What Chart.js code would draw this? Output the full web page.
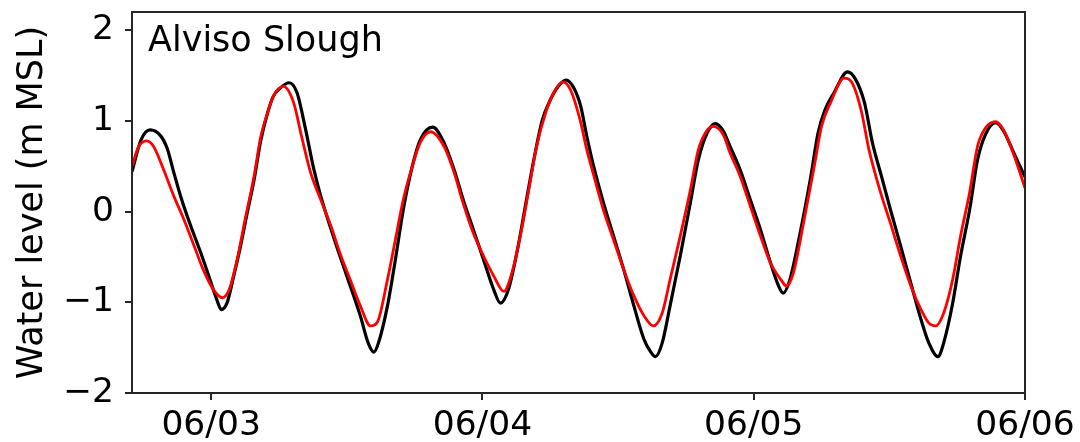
<!DOCTYPE html>
<html>
<head>
<meta charset="utf-8">
<script src="https://cdn.jsdelivr.net/npm/chart.js@4.4.1/dist/chart.umd.min.js"></script>
<style>
  html, body { margin: 0; padding: 0; background: #fff; }
  canvas { display: block; }
</style>
</head>
<body>
<canvas id="chart" width="1080" height="442"></canvas>
<script>
// hours counted from 06/02 00:00
const stationName = "Alviso Slough";
const yTitle = "Water level (m MSL)";
const xTickHours = [24, 48, 72, 96];
const xTickLabels = ["06/03", "06/04", "06/05", "06/06"];
const yTickValues = [-2, -1, 0, 1, 2];
const yTickLabels = ["−2", "−1", "0", "1", "2"];

// black line (observed)
const observedHours = [
  17.0, 17.8, 18.6, 19.5, 20.1, 20.7, 21.3, 22.2, 23.1, 23.9,
  24.5, 24.9, 25.4, 26.0, 26.6, 27.2, 27.8, 28.4, 29.0, 29.5,
  30.1, 30.9, 31.6, 32.3, 33.1, 33.7, 34.8, 36.0, 37.2, 37.9,
  38.4, 38.8, 39.6, 40.3, 41.0, 41.8, 42.5, 43.6, 44.6, 45.5,
  46.3, 47.2, 48.1, 49.0, 49.6, 50.3, 51.1, 51.8, 52.5, 53.3,
  54.0, 54.7, 55.4, 56.1, 56.7, 57.2, 57.8, 58.7, 59.6, 60.5,
  61.4, 62.3, 62.9, 63.3, 63.9, 64.6, 65.5, 66.4, 67.1, 67.9,
  68.6, 69.3, 69.9, 70.8, 71.7, 72.6, 73.5, 74.2, 74.6, 75.2,
  76.1, 77.0, 77.7, 78.3, 79.1, 80.3, 81.0, 81.8, 82.5, 83.3,
  84.1, 85.0, 85.9, 86.8, 87.5, 88.3, 88.8, 89.6, 90.3, 91.1,
  91.8, 92.5, 93.4, 94.1, 95.0, 96.0
];
const observedLevels = [
  0.44, 0.79, 0.90, 0.84, 0.70, 0.43, 0.17, -0.16, -0.46, -0.75,
  -0.97, -1.08, -1.01, -0.71, -0.38, -0.01, 0.35, 0.79, 1.09, 1.27,
  1.36, 1.42, 1.31, 0.94, 0.46, 0.17, -0.27, -0.71, -1.15, -1.45,
  -1.55, -1.45, -1.04, -0.53, 0.02, 0.50, 0.79, 0.93, 0.76, 0.46,
  0.13, -0.20, -0.53, -0.86, -1.01, -0.86, -0.42, 0.06, 0.54, 1.01,
  1.23, 1.38, 1.45, 1.36, 1.16, 0.85, 0.52, 0.10, -0.27, -0.64,
  -1.04, -1.41, -1.55, -1.60, -1.45, -1.04, -0.49, 0.10, 0.57, 0.87,
  0.97, 0.89, 0.72, 0.46, 0.13, -0.20, -0.57, -0.82, -0.90, -0.75,
  -0.24, 0.35, 0.87, 1.12, 1.31, 1.54, 1.46, 1.20, 0.76, 0.39,
  0.02, -0.38, -0.79, -1.19, -1.45, -1.60, -1.45, -1.01, -0.49, 0.02,
  0.57, 0.85, 0.98, 0.89, 0.65, 0.38
];

// red line (model)
const modelHours = [
  17.0, 17.6, 18.3, 18.9, 19.8, 20.7, 21.6, 22.5, 23.3, 24.2,
  25.0, 25.6, 26.3, 27.0, 27.8, 28.4, 29.0, 29.5, 30.4, 31.3,
  32.0, 32.8, 33.7, 34.6, 35.4, 36.3, 37.2, 38.1, 38.7, 39.6,
  40.3, 41.0, 41.8, 42.5, 43.4, 44.6, 45.5, 46.3, 47.2, 48.1,
  49.0, 49.9, 50.6, 51.4, 52.1, 52.8, 53.6, 54.3, 55.1, 55.8,
  56.7, 57.2, 57.8, 58.7, 59.6, 60.5, 61.4, 62.3, 63.1, 63.9,
  64.6, 65.5, 66.4, 67.1, 67.9, 68.4, 69.3, 69.9, 70.8, 71.7,
  72.6, 73.5, 74.4, 74.9, 75.5, 76.4, 77.3, 78.0, 78.8, 80.0,
  80.7, 81.5, 82.2, 83.2, 84.1, 85.0, 85.9, 86.8, 87.5, 88.1,
  88.8, 89.6, 90.3, 91.1, 91.8, 92.5, 93.4, 94.1, 95.0, 96.0
];
const modelLevels = [
  0.50, 0.72, 0.78, 0.72, 0.46, 0.17, -0.09, -0.38, -0.64, -0.86,
  -0.95, -0.86, -0.53, -0.09, 0.39, 0.83, 1.09, 1.27, 1.38, 1.20,
  0.83, 0.43, 0.13, -0.16, -0.46, -0.75, -1.04, -1.26, -1.22, -0.75,
  -0.31, 0.13, 0.50, 0.76, 0.88, 0.72, 0.43, 0.09, -0.24, -0.49,
  -0.71, -0.88, -0.68, -0.24, 0.24, 0.72, 1.09, 1.31, 1.43, 1.34,
  0.98, 0.70, 0.42, 0.02, -0.31, -0.64, -0.93, -1.15, -1.26, -1.12,
  -0.75, -0.27, 0.24, 0.68, 0.90, 0.94, 0.85, 0.65, 0.39, 0.06,
  -0.27, -0.57, -0.75, -0.82, -0.68, -0.13, 0.46, 0.94, 1.20, 1.47,
  1.42, 1.12, 0.68, 0.22, -0.13, -0.49, -0.82, -1.08, -1.23, -1.26,
  -1.12, -0.75, -0.27, 0.21, 0.72, 0.92, 0.99, 0.90, 0.63, 0.26
];

const toPoints = (xs, ys) => xs.map((x, i) => ({ x: x, y: ys[i] }));

Chart.defaults.font.family = "'DejaVu Sans', sans-serif";
Chart.defaults.color = "#000";

const AXIS_COLOR = "#262626";
const TEXT_SIZE = 35;
const TICK_SIZE = 34.5;

// box around the plot + station name
const framePlugin = {
  id: "frame",
  afterDraw(chart) {
    const { ctx, chartArea: a } = chart;
    ctx.save();
    ctx.strokeStyle = AXIS_COLOR;
    ctx.lineWidth = 2;
    ctx.strokeRect(a.left, a.top, a.right - a.left, a.bottom - a.top);
    ctx.fillStyle = "#000";
    ctx.font = TEXT_SIZE + "px 'DejaVu Sans', sans-serif";
    ctx.textAlign = "left";
    ctx.textBaseline = "alphabetic";
    ctx.fillText(stationName, a.left + 16, a.top + 39);
    ctx.restore();
  }
};

new Chart(document.getElementById("chart"), {
  type: "line",
  data: {
    datasets: [
      {
        label: "observed",
        data: toPoints(observedHours, observedLevels),
        borderColor: "#000",
        borderWidth: 3.2,
        order: 2
      },
      {
        label: "model",
        data: toPoints(modelHours, modelLevels),
        borderColor: "#ff0000",
        borderWidth: 2.8,
        order: 1
      }
    ]
  },
  options: {
    responsive: false,
    animation: false,
    devicePixelRatio: 1,
    layout: { padding: { top: 12, right: 55, bottom: 0, left: 0 } },
    elements: {
      point: { radius: 0 },
      line: { cubicInterpolationMode: "monotone", fill: false }
    },
    plugins: {
      legend: { display: false },
      tooltip: { enabled: false }
    },
    scales: {
      x: {
        type: "linear",
        min: 17,
        max: 96,
        border: { display: false },
        grid: { drawOnChartArea: false, tickLength: 7, color: AXIS_COLOR, lineWidth: 2 },
        ticks: {
          font: { size: TICK_SIZE },
          padding: 5,
          maxRotation: 0,
          callback: (v, i) => xTickLabels[i]
        },
        afterBuildTicks: s => { s.ticks = xTickHours.map(v => ({ value: v })); },
        afterFit: s => { s.height = 49; s.paddingLeft = 0; s.paddingRight = 0; }
      },
      y: {
        type: "linear",
        min: -2,
        max: 2.2,
        border: { display: false },
        grid: { drawOnChartArea: false, tickLength: 7, color: AXIS_COLOR, lineWidth: 2 },
        ticks: {
          font: { size: TICK_SIZE },
          padding: 11,
          callback: (v, i) => yTickLabels[i]
        },
        title: {
          display: true,
          text: yTitle,
          font: { size: TEXT_SIZE },
          padding: { top: 12, bottom: 0 }
        },
        afterBuildTicks: s => { s.ticks = yTickValues.map(v => ({ value: v })); },
        afterFit: s => { s.width = 132; s.paddingTop = 0; s.paddingBottom = 0; }
      }
    }
  },
  plugins: [framePlugin]
});
</script>
</body>
</html>
